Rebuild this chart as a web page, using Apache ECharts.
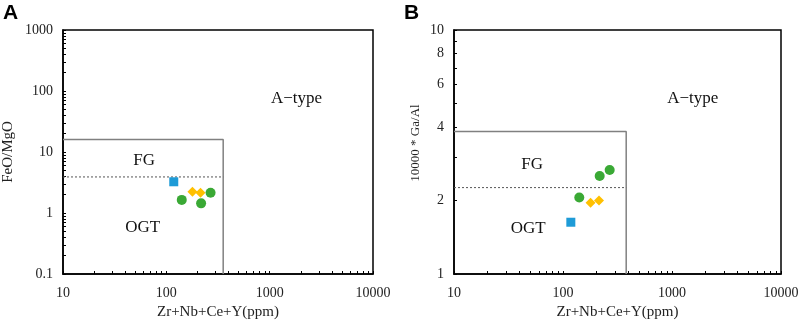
<!DOCTYPE html>
<html>
<head>
<meta charset="utf-8">
<script src="https://cdn.jsdelivr.net/npm/echarts@6/dist/echarts.min.js"></script>
<style>
  html, body { margin: 0; padding: 0; background: #fff; }
  #main { width: 803px; height: 325px; }
</style>
</head>
<body>
<div id="main"></div>
<script>
// samples, Zr+Nb+Ce+Y (ppm)
var xBlue = [118];
var xYellow = [179, 214];
var xGreen = [141, 217, 268];
// panel A, FeO/MgO
var aBlue = [3.25];
var aYellow = [2.24, 2.15];
var aGreen = [1.64, 1.44, 2.15];
// panel B, 10000*Ga/Al
var bBlue = [1.63];
var bYellow = [1.96, 2.00];
var bGreen = [2.06, 2.52, 2.67];

// field boundaries
var aBoxX = [10, 355, 355];
var aBoxY = [16, 16, 0.1];
var aDotX = [10, 355];
var aDotY = [3.9, 3.9];
var bBoxX = [10, 380, 380];
var bBoxY = [3.84, 3.84, 1];
var bDotX = [10, 380];
var bDotY = [2.26, 2.26];

// tick labels
var xLabels = [10, 100, 1000, 10000];
var aYLabels = [0.1, 1, 10, 100, 1000];
var bYLabels = [1, 2, 4, 6, 8, 10];

// field names
var fieldNames = ['A\u2212type', 'FG', 'OGT'];
var aFieldX = [1820, 61, 59];
var aFieldY = [75, 7.2, 0.58];
var bFieldX = [1550, 52, 48];
var bFieldY = [5.25, 2.81, 1.53];

var lg = Math.log10;
function pts(xs, ys) {
  var out = [];
  for (var i = 0; i < xs.length; i++) out.push([lg(xs[i]), lg(ys[i])]);
  return out;
}
// minor ticks 1..9 in every decade
function decadeTicks(lo, hi) {
  var t = [];
  for (var e = lo; e < hi; e++) {
    for (var k = 1; k < 10; k++) t.push(lg(k * Math.pow(10, e)));
  }
  t.push(hi);
  return t;
}
function fmt(v) {
  var r = Math.pow(10, v);
  return r < 1 ? (Math.round(r * 10) / 10) + '' : Math.round(r) + '';
}

var serif = 'Liberation Serif';
var axisLine = { onZero: false, lineStyle: { color: '#000', width: 1.5 } };

function xAxisFor(gi) {
  return {
    type: 'value', gridIndex: gi, min: 1, max: 4,
    name: 'Zr+Nb+Ce+Y(ppm)', nameLocation: 'middle', nameGap: 31,
    nameTextStyle: { fontFamily: serif, fontSize: 15, color: '#222' },
    axisLine: axisLine,
    axisTick: { inside: true, length: 3, customValues: decadeTicks(1, 4), lineStyle: { color: '#000' } },
    axisLabel: { customValues: xLabels.map(lg), formatter: fmt, margin: 12,
                 fontFamily: serif, fontSize: 14, color: '#222' },
    splitLine: { show: false }
  };
}

function boxSeries(xi, xs, ys, dotted) {
  return {
    type: 'line', xAxisIndex: xi, yAxisIndex: xi, data: pts(xs, ys),
    symbol: 'none', silent: true,
    lineStyle: dotted ? { color: '#555', width: 1, type: [2, 2] } : { color: '#808080', width: 1.5 }
  };
}
function scatter(xi, xs, ys, sym, size, color) {
  return {
    type: 'scatter', xAxisIndex: xi, yAxisIndex: xi, data: pts(xs, ys),
    symbol: sym, symbolSize: size, itemStyle: { color: color, opacity: 1 }, z: 5
  };
}
function fieldLabels(xi, xs, ys) {
  var d = pts(xs, ys).map(function (p, i) { return { value: p, name: fieldNames[i] }; });
  return {
    type: 'scatter', xAxisIndex: xi, yAxisIndex: xi, data: d, symbolSize: 0, silent: true,
    itemStyle: { opacity: 1 },
    label: { show: true, position: 'inside', formatter: '{b}', fontFamily: serif, fontSize: 17, color: '#111' }
  };
}

var chart = echarts.init(document.getElementById('main'), null, { renderer: 'canvas' });
var option = {
  animation: false,
  backgroundColor: '#fff',
  grid: [
    { left: 60, top: 30, width: 313, height: 246, show: true, borderColor: '#000', borderWidth: 1.5 },
    { left: 454, top: 30, width: 327, height: 246, show: true, borderColor: '#000', borderWidth: 1.5 }
  ],
  xAxis: [xAxisFor(0), xAxisFor(1)],
  yAxis: [
    {
      type: 'value', gridIndex: 0, min: -1, max: 3,
      name: 'FeO/MgO', nameLocation: 'middle', nameGap: 47,
      nameTextStyle: { fontFamily: serif, fontSize: 15, color: '#222' },
      axisLine: axisLine,
      axisTick: { inside: true, length: 3, customValues: decadeTicks(-1, 3), lineStyle: { color: '#000' } },
      axisLabel: { customValues: aYLabels.map(lg), formatter: fmt, margin: 10,
                   fontFamily: serif, fontSize: 14, color: '#222' },
      splitLine: { show: false }
    },
    {
      type: 'value', gridIndex: 1, min: 0, max: 1,
      name: '10000 * Ga/Al', nameLocation: 'middle', nameGap: 32,
      nameTextStyle: { fontFamily: serif, fontSize: 13, color: '#222', padding: [0, 0, 0, 18] },
      axisLine: axisLine,
      axisTick: { inside: true, length: 3, customValues: decadeTicks(0, 1), lineStyle: { color: '#000' } },
      axisLabel: { customValues: bYLabels.map(lg), formatter: fmt, margin: 10,
                   fontFamily: serif, fontSize: 14, color: '#222' },
      splitLine: { show: false }
    }
  ],
  graphic: [
    { type: 'text', left: 3, top: 3, style: { text: 'A', font: 'bold 21px "Liberation Sans"', fill: '#000' } },
    { type: 'text', left: 404, top: 3, style: { text: 'B', font: 'bold 21px "Liberation Sans"', fill: '#000' } }
  ],
  series: [
    boxSeries(0, aBoxX, aBoxY, false),
    boxSeries(0, aDotX, aDotY, true),
    boxSeries(1, bBoxX, bBoxY, false),
    boxSeries(1, bDotX, bDotY, true),
    fieldLabels(0, aFieldX, aFieldY),
    fieldLabels(1, bFieldX, bFieldY),
    scatter(0, xBlue, aBlue, 'rect', 9, '#1e9bd7'),
    scatter(0, xYellow, aYellow, 'diamond', 10, '#ffc000'),
    scatter(0, xGreen, aGreen, 'circle', 10, '#3aa935'),
    scatter(1, xBlue, bBlue, 'rect', 9, '#1e9bd7'),
    scatter(1, xYellow, bYellow, 'diamond', 10, '#ffc000'),
    scatter(1, xGreen, bGreen, 'circle', 10, '#3aa935')
  ]
};
chart.setOption(option);
</script>
</body>
</html>
